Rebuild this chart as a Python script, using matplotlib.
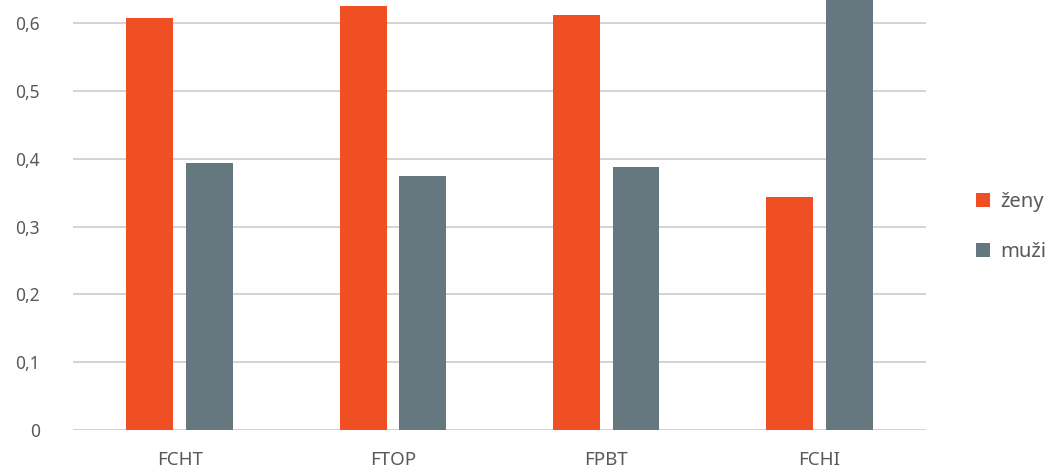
import numpy as np
import matplotlib.pyplot as plt
from matplotlib.ticker import FuncFormatter

plt.rcParams['font.family'] = ['Noto Sans', 'DejaVu Sans']

# data
categories = ["FCHT", "FTOP", "FPBT", "FCHI"]
zeny = [0.607, 0.625, 0.612, 0.344]
muzi = [0.393, 0.375, 0.388, 0.656]
series_names = ["ženy", "muži"]

ORANGE = "#F04E23"
GREY = "#657880"
TEXT = "#595959"

fig = plt.figure(figsize=(10.48, 4.70), dpi=100)
ax = fig.add_axes([0.0697, 0.0851, 0.8139, 0.9149])

x = np.arange(len(categories))
w = 0.22
off = 0.14
ax.bar(x - off, zeny, width=w, color=ORANGE, label=series_names[0], zorder=3)
ax.bar(x + off, muzi, width=w, color=GREY, label=series_names[1], zorder=3)

ax.set_xlim(-0.5, len(categories) - 0.5)
ax.set_ylim(0, 0.634)
ax.set_yticks(np.arange(0, 0.61, 0.1))
ax.yaxis.set_major_formatter(FuncFormatter(
    lambda v, p: "0" if abs(v) < 1e-9 else f"{v:.1f}".replace(".", ",")))
ax.set_xticks(x)
ax.set_xticklabels(categories)

ax.grid(axis="y", color="#d0d0d0", linewidth=1.3, zorder=0)
ax.set_axisbelow(True)
for s in ax.spines.values():
    s.set_visible(False)
ax.tick_params(axis="both", length=0, colors=TEXT)
ax.tick_params(axis="y", pad=24, labelsize=12.5)
ax.tick_params(axis="x", pad=15, labelsize=13.5)
for lbl in ax.get_yticklabels():
    lbl.set_horizontalalignment("right")

fig.legend(loc="center left", bbox_to_anchor=(0.931, 0.517), frameon=False,
           fontsize=14.5, handlelength=0.7, handleheight=0.7,
           handletextpad=0.5, labelspacing=1.45, labelcolor=TEXT,
           borderpad=0, borderaxespad=0)

fig.savefig("out.png", dpi=100)
